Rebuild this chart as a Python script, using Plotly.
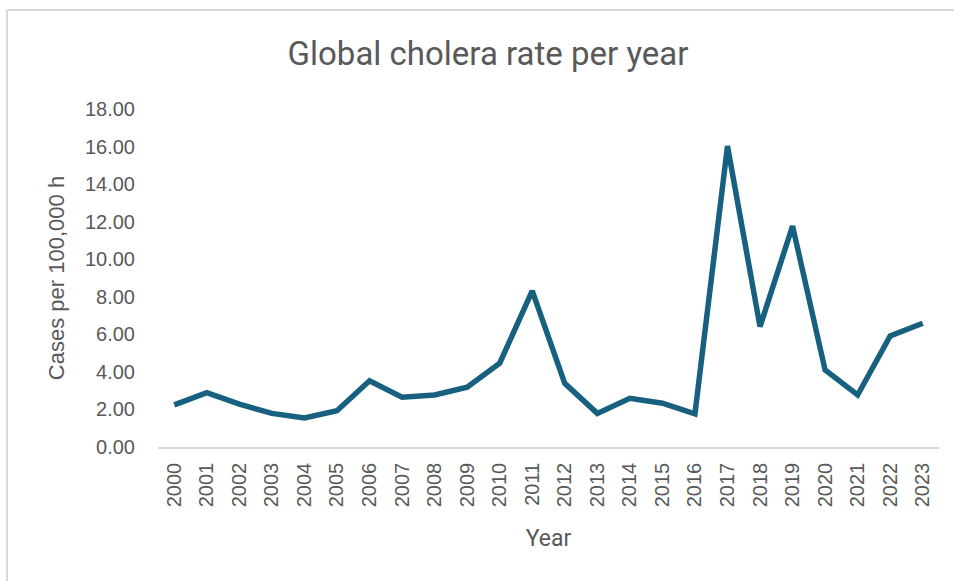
import plotly.graph_objects as go

years = [str(y) for y in range(2000, 2024)]
rates = [2.24, 2.89, 2.28, 1.79, 1.55, 1.93, 3.53, 2.65, 2.77, 3.18, 4.46, 8.31,
         3.39, 1.79, 2.59, 2.33, 1.76, 16.03, 6.41, 11.77, 4.10, 2.77, 5.91, 6.59]
y_ticks = [0, 2, 4, 6, 8, 10, 12, 14, 16, 18]

W, H = 954, 581
L, R, T, B = 158, 15, 109, 134
pw, ph = W - L - R, H - T - B

fig = go.Figure()
fig.add_trace(go.Scatter(x=years, y=rates, mode="lines",
                         line=dict(color="#17607f", width=5.5),
                         hoverinfo="x+y"))

fig.update_layout(
    width=W, height=H,
    paper_bgcolor="white", plot_bgcolor="white",
    margin=dict(l=L, r=R, t=T, b=B),
    showlegend=False,
    title=dict(text="Global cholera rate per year", x=488 / W, xanchor="center",
               y=1 - 53 / H, yanchor="middle",
               font=dict(family="Roboto, Liberation Sans, sans-serif", size=33, color="#595959")),
    xaxis=dict(type="category", range=[-0.5, 23.5], tickangle=-90, showgrid=False,
               showline=True, linecolor="#d9d9d9", linewidth=1.5,
               ticks="", ticklabelstandoff=6,
               tickfont=dict(family="Liberation Sans, Arial, sans-serif", size=20, color="#595959"),
               title=dict(text="Year", standoff=24,
                          font=dict(family="Roboto, Liberation Sans, sans-serif", size=23, color="#595959"))),
    yaxis=dict(range=[0, 18], tickvals=y_ticks,
               ticktext=[f"{v:.2f}" for v in y_ticks],
               showgrid=False, zeroline=False, showline=False, ticks="",
               ticklabelstandoff=22,
               tickfont=dict(family="Liberation Sans, Arial, sans-serif", size=20, color="#595959"),
               title=dict(text="Cases per 100,000 h", standoff=14,
                          font=dict(family="Liberation Sans, Arial, sans-serif", size=22, color="#595959"))),
    shapes=[
        dict(type="line", xref="paper", yref="paper",
             x0=(7 - L) / pw, x1=(W - L) / pw,
             y0=1 + (T - 10) / ph, y1=1 + (T - 10) / ph,
             line=dict(color="#d9d9d9", width=2)),
        dict(type="line", xref="paper", yref="paper",
             x0=(7 - L) / pw, x1=(7 - L) / pw,
             y0=1 + (T - 10) / ph, y1=-B / ph,
             line=dict(color="#d9d9d9", width=2)),
    ],
)

fig.write_html("out.html", config={"displayModeBar": False})
